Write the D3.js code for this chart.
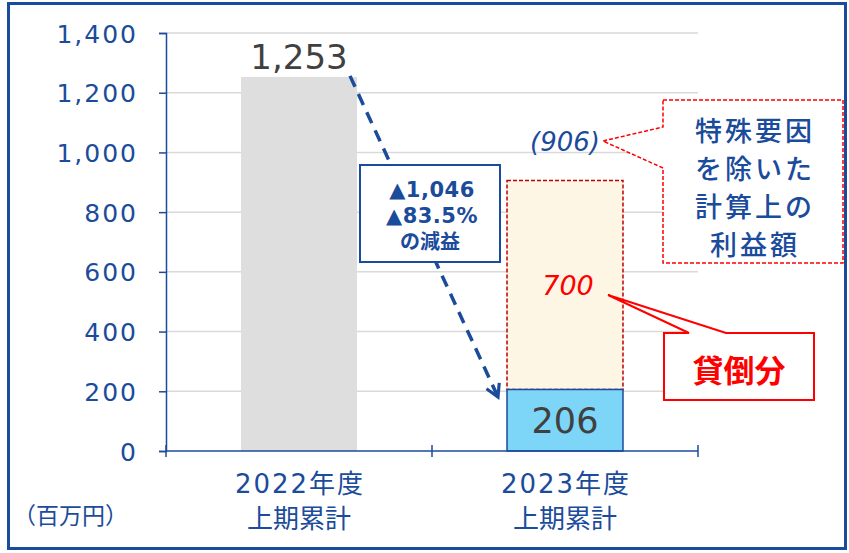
<!DOCTYPE html>
<html><head><meta charset="utf-8">
<script src="https://cdn.jsdelivr.net/npm/d3@7"></script>
<style>html,body{margin:0;padding:0;background:#fff;}svg{display:block;}</style>
</head><body>
<svg id="c" width="849" height="553"></svg>
<script>
const categories = ["2022年度\n上期累計", "2023年度\n上期累計"];
const actualValues = [1253, 206];
const adjustedValues = [null, 906];
const badDebtValue = 700;
const yTicks = [0, 200, 400, 600, 800, 1000, 1200, 1400];
const changeLabels = ["▲1,046", "▲83.5%", "の減益"];
const adjustedNote = ["特殊要因", "を除いた", "計算上の", "利益額"];
const badDebtNote = "貸倒分";
const unitLabel = "（百万円）";

const BLUE = "#1b4b9b";
const svg = d3.select("#c");
const font = "'DejaVu Sans', 'Noto Sans CJK JP', sans-serif";
const jfont = "'Noto Sans CJK JP', sans-serif";

svg.append("rect").attr("x", 8.5).attr("y", 3.5).attr("width", 837).attr("height", 545)
  .attr("fill", "#fff").attr("stroke", BLUE).attr("stroke-width", 3);

const x = d3.scaleBand().domain(categories).range([166, 698]).paddingInner(0.564).paddingOuter(0.282);
const y = d3.scaleLinear().domain([0, 1400]).range([451, 33]);

// gridlines
svg.append("g").selectAll("line").data(yTicks.filter(d => d > 0)).join("line")
  .attr("x1", 166).attr("x2", 698).attr("y1", d => y(d)).attr("y2", d => y(d))
  .attr("stroke", "#d9d9d9").attr("stroke-width", 1.5);

// bar 1
svg.append("rect").attr("x", x(categories[0])).attr("width", x.bandwidth())
  .attr("y", y(actualValues[0])).attr("height", y(0) - y(actualValues[0])).attr("fill", "#dedede");

// adjusted dashed box
svg.append("rect").attr("x", x(categories[1])).attr("width", x.bandwidth())
  .attr("y", y(adjustedValues[1])).attr("height", y(actualValues[1]) - y(adjustedValues[1]))
  .attr("fill", "#fdf6e5").attr("stroke", "#c00000").attr("stroke-width", 1.5).attr("stroke-dasharray", "4,2");

// bar 2
svg.append("rect").attr("x", x(categories[1])).attr("width", x.bandwidth())
  .attr("y", y(actualValues[1])).attr("height", y(0) - y(actualValues[1]))
  .attr("fill", "#7dd5f7").attr("stroke", BLUE).attr("stroke-width", 1.5);

// axes
const yAxis = svg.append("g").attr("transform", "translate(166,0)")
  .call(d3.axisLeft(y).tickValues(yTicks).tickFormat(d3.format(",")).tickSize(7).tickPadding(21));
yAxis.select(".domain").attr("stroke", BLUE).attr("stroke-width", 1.5);
yAxis.selectAll(".tick line").attr("stroke", BLUE).attr("stroke-width", 1.5);
yAxis.selectAll("text").attr("fill", BLUE).attr("font-family", font).attr("font-size", 25)
  .attr("letter-spacing", "2px").attr("dy", "0.36em");

const xAxisG = svg.append("g").attr("transform", "translate(0,451)");
xAxisG.append("line").attr("x1", 166).attr("x2", 698).attr("stroke", BLUE).attr("stroke-width", 1.5);
const bounds = [166, x(categories[1]) - x.step() * x.paddingInner() / 2, 698];
xAxisG.selectAll("line.t").data(bounds).join("line").attr("class", "t")
  .attr("x1", d => d).attr("x2", d => d).attr("y1", -6).attr("y2", 6)
  .attr("stroke", BLUE).attr("stroke-width", 1.5);
categories.forEach(c => {
  const lines = c.split("\n");
  const t = svg.append("text").attr("text-anchor", "middle").attr("fill", BLUE)
    .attr("font-family", font).attr("font-size", 26);
  lines.forEach((l, i) => t.append("tspan").attr("x", x(c) + x.bandwidth() / 2 + (i === 0 ? 1 : 0)).attr("y", 493 + i * 35)
    .attr("letter-spacing", i === 0 ? "2px" : "0px").text(l));
});
svg.append("text").attr("x", 13).attr("y", 524).attr("fill", BLUE).attr("font-family", jfont)
  .attr("font-size", 23).text(unitLabel);

// value labels
svg.append("text").attr("x", x(categories[0]) + x.bandwidth() / 2).attr("y", y(actualValues[0]) - 8)
  .attr("text-anchor", "middle").attr("fill", "#404040").attr("font-family", font).attr("font-size", 34)
  .text(d3.format(",")(actualValues[0]));
svg.append("text").attr("x", x(categories[1]) + x.bandwidth() / 2).attr("y", 433)
  .attr("text-anchor", "middle").attr("fill", "#404040").attr("font-family", font).attr("font-size", 35)
  .text(d3.format(",")(actualValues[1]));
svg.append("text").attr("x", 600).attr("y", 151)
  .attr("text-anchor", "end").attr("fill", BLUE).attr("font-family", font).attr("font-size", 26)
  .attr("font-style", "italic").text("(" + adjustedValues[1] + ")");
svg.append("text").attr("x", 568).attr("y", 295)
  .attr("text-anchor", "middle").attr("fill", "#ff0000").attr("font-family", font).attr("font-size", 27)
  .attr("font-style", "italic").text(badDebtValue);

// dashed arrow
const defs = svg.append("defs");
defs.append("marker").attr("id", "ah").attr("viewBox", "0 0 10 10").attr("refX", 8).attr("refY", 5)
  .attr("markerWidth", 5).attr("markerHeight", 5).attr("orient", "auto")
  .append("path").attr("d", "M1,1 L8,5 L1,9").attr("fill", "none").attr("stroke", BLUE).attr("stroke-width", 1.8);
svg.append("line").attr("x1", 350).attr("y1", y(actualValues[0]) - 1).attr("x2", 498).attr("y2", 397)
  .attr("stroke", BLUE).attr("stroke-width", 3.5).attr("stroke-dasharray", "12,8").attr("marker-end", "url(#ah)");

// change callout
svg.append("rect").attr("x", 360).attr("y", 165).attr("width", 140).attr("height", 97)
  .attr("fill", "#fff").attr("stroke", BLUE).attr("stroke-width", 2);
const ct = svg.append("text").attr("text-anchor", "middle").attr("fill", BLUE).attr("font-family", font)
  .attr("font-weight", "bold");
ct.append("tspan").attr("x", 432).attr("y", 197).attr("font-size", 21).attr("letter-spacing", "0.5px").text(changeLabels[0]);
ct.append("tspan").attr("x", 432).attr("y", 223).attr("font-size", 21).attr("letter-spacing", "0.5px").text(changeLabels[1]);
ct.append("tspan").attr("x", 430).attr("y", 249).attr("font-size", 20)
  .attr("font-family", jfont).text(changeLabels[2]);

// adjusted note callout (dashed red)
svg.append("path")
  .attr("d", "M663,100 H843 V263 H663 V168 L603,141 L663,127 Z")
  .attr("fill", "#fff").attr("stroke", "#ff0000").attr("stroke-width", 1.5).attr("stroke-dasharray", "4,2");
adjustedNote.forEach((l, i) => svg.append("text").attr("text-anchor", "middle").attr("fill", BLUE)
  .attr("font-family", jfont).attr("font-size", 27).attr("font-weight", 500).attr("letter-spacing", "3px")
  .attr("x", 755).attr("y", 141 + i * 38).text(l));

// bad debt callout
svg.append("path")
  .attr("d", "M664,333 H689 L608,295 L726,333 H814 V400 H664 Z")
  .attr("fill", "#fff").attr("stroke", "#ff0000").attr("stroke-width", 2);
svg.append("text").attr("x", 739).attr("y", 382).attr("text-anchor", "middle").attr("fill", "#ff0000")
  .attr("font-family", jfont).attr("font-size", 31).attr("font-weight", "bold").text(badDebtNote);
</script>
</body></html>
